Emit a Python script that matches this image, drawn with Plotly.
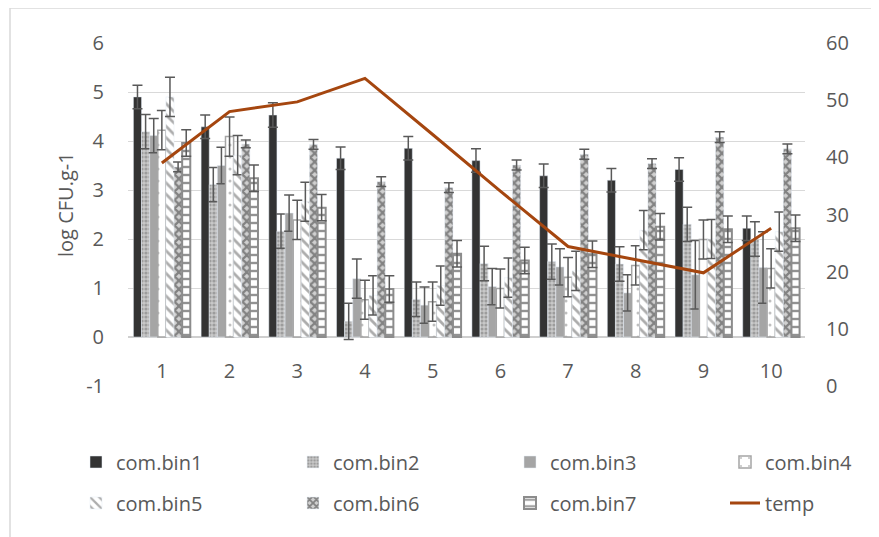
import plotly.graph_objects as go

days = [1, 2, 3, 4, 5, 6, 7, 8, 9, 10]
tick_labels = ["1", "2", "3", "4", "5", "6", "7", "8", "9", "10"]
y_ticks = [-1, 0, 1, 2, 3, 4, 5, 6]
y_tick_labels = ["-1", "0", "1", "2", "3", "4", "5", "6"]

bin1 = [4.90, 4.29, 4.53, 3.65, 3.85, 3.60, 3.29, 3.20, 3.42, 2.22]
err1 = [0.24, 0.24, 0.25, 0.23, 0.24, 0.24, 0.24, 0.24, 0.24, 0.25]
bin2 = [4.19, 3.11, 2.16, 0.32, 0.77, 1.50, 1.54, 1.49, 2.30, 2.00]
err2 = [0.35, 0.35, 0.35, 0.37, 0.35, 0.35, 0.36, 0.35, 0.35, 0.35]
bin3 = [4.11, 3.50, 2.53, 1.19, 0.65, 1.03, 1.43, 0.90, 1.27, 1.42]
err3 = [0.35, 0.37, 0.37, 0.40, 0.37, 0.37, 0.37, 0.37, 0.70, 0.73]
bin4 = [4.22, 4.09, 2.39, 0.76, 0.72, 0.99, 1.22, 1.46, 1.99, 1.40]
err4 = [0.40, 0.40, 0.40, 0.40, 0.40, 0.40, 0.40, 0.40, 0.40, 0.40]
bin5 = [4.90, 3.71, 2.76, 0.85, 1.05, 1.21, 1.35, 2.18, 2.00, 2.15]
err5 = [0.40, 0.40, 0.40, 0.40, 0.40, 0.40, 0.40, 0.40, 0.40, 0.40]
bin6 = [3.47, 3.94, 3.93, 3.17, 3.05, 3.51, 3.73, 3.54, 4.08, 3.84]
err6 = [0.10, 0.08, 0.10, 0.10, 0.10, 0.10, 0.10, 0.10, 0.11, 0.10]
bin7 = [3.96, 3.24, 2.64, 0.98, 1.70, 1.56, 1.69, 2.25, 2.20, 2.22]
err7 = [0.27, 0.27, 0.27, 0.27, 0.27, 0.27, 0.27, 0.27, 0.27, 0.27]
temp = [39.0, 48.0, 49.7, 53.8, 44.0, 34.1, 24.4, 22.1, 19.8, 27.6]

FONT = "Open Sans"
TXT = "#595959"
W, H = 879, 537
OFF = 8  # default page (body) margin of the written html

# plot area in screen pixels: left 128, right 805, top 43, bottom 386
PL, PR, PT, PB = 128, 805, 43, 386
L = PL - OFF
T = PT - OFF
R = W - L - (PR - PL)
B = H - (PB - OFF)
PW, PH = PR - PL, PB - PT


def px_x(X):
    return (X - PL) / PW


def px_y(Y):
    return (PB - Y) / PH


series = [
    ("com.bin1", bin1, err1, dict(color="#333333")),
    ("com.bin2", bin2, err2, dict(color="#bfbfbf", pattern=dict(shape=".", bgcolor="#c8c8c8", fgcolor="#6f6f6f", size=4, solidity=0.5))),
    ("com.bin3", bin3, err3, dict(color="#a5a5a5")),
    ("com.bin4", bin4, err4, dict(color="white", pattern=dict(shape=".", bgcolor="white", fgcolor="#7f7f7f", size=12, solidity=0.05), line=dict(color="#a5a5a5", width=1.5))),
    ("com.bin5", bin5, err5, dict(color="white", pattern=dict(shape="\\", bgcolor="white", fgcolor="#595959", size=8, solidity=0.35))),
    ("com.bin6", bin6, err6, dict(color="#c8c8c8", pattern=dict(shape="x", bgcolor="#d0d0d0", fgcolor="#333333", size=6, solidity=0.6))),
    ("com.bin7", bin7, err7, dict(color="white", pattern=dict(shape="-", bgcolor="white", fgcolor="#262626", size=8, solidity=0.3), line=dict(color="#8c8c8c", width=2))),
]

legend_ids = ["legend", "legend2", "legend3", "legend4", "legend5", "legend6", "legend7", "legend8"]
# text start x and row centre y (screen pixels) of each legend entry
legend_text_x = [116, 333, 550, 765, 116, 333, 550, 765]
legend_row_y = [462, 462, 462, 462, 503, 503, 503, 503]

fig = go.Figure()
for i, (name, vals, errs, marker) in enumerate(series):
    fig.add_trace(go.Bar(
        x=days, y=vals, name=name, marker=marker, legend=legend_ids[i],
        error_y=dict(type="data", array=errs, visible=True, color="#595959", thickness=1.5, width=5),
    ))

fig.add_trace(go.Scatter(
    x=days, y=temp, name="temp", mode="lines", yaxis="y2", legend=legend_ids[7],
    line=dict(color="#A5460F", width=3),
))

legend_layout = {}
for lid, tx, ty in zip(legend_ids, legend_text_x, legend_row_y):
    legend_layout[lid] = dict(
        xref="container", yref="container",
        x=(tx - OFF - 40) / W, xanchor="left", y=1 - (ty - OFF) / H, yanchor="middle",
        font=dict(family=FONT, size=20, color=TXT), bgcolor="rgba(0,0,0,0)",
        borderwidth=0,
    )

fig.update_layout(
    width=W, height=H,
    margin=dict(l=L, r=R, t=T, b=B, autoexpand=False),
    paper_bgcolor="white", plot_bgcolor="white",
    font=dict(family=FONT, size=20, color=TXT),
    barmode="group", bargap=0.16, bargroupgap=0,
    xaxis=dict(
        range=[0.5, 10.5], tickvals=days, ticktext=tick_labels,
        showgrid=False, showline=False, zeroline=False, ticks="",
        anchor="free", position=px_y(357),
        tickfont=dict(size=20, color=TXT),
    ),
    yaxis=dict(
        range=[-1, 6], tickvals=y_ticks, ticktext=y_tick_labels,
        showgrid=True, gridcolor="#d9d9d9", gridwidth=1.2,
        zeroline=True, zerolinecolor="#cfcfcf", zerolinewidth=1.5,
        showline=False, ticks="", ticklabelstandoff=23,
        tickfont=dict(size=20, color=TXT),
    ),
    yaxis2=dict(
        range=[0, 60], dtick=10, overlaying="y", side="right",
        showgrid=False, zeroline=False, showline=False, ticks="",
        ticklabelstandoff=20, tickfont=dict(size=20, color=TXT),
    ),
    annotations=[dict(
        text="log CFU.g-1", textangle=-90, xref="paper", yref="paper",
        x=px_x(66), y=px_y(205), xanchor="center", yanchor="middle",
        showarrow=False, font=dict(size=20, color=TXT),
    )],
    shapes=[dict(
        type="rect", xref="paper", yref="paper",
        x0=px_x(10), x1=px_x(900), y0=px_y(560), y1=px_y(8),
        line=dict(color="#d9d9d9", width=1.5), fillcolor="rgba(0,0,0,0)", layer="below",
    )],
    showlegend=True,
    **legend_layout,
)

fig.write_html("out.html")
